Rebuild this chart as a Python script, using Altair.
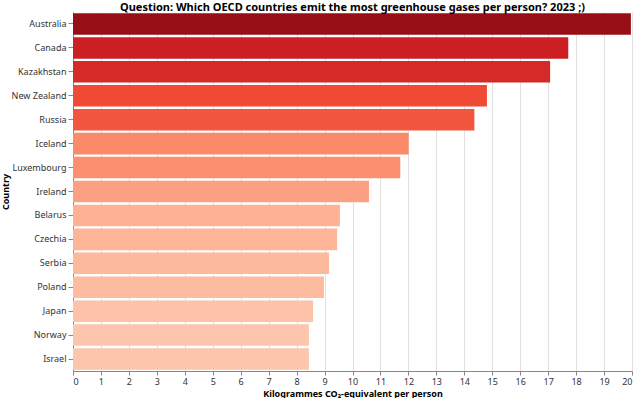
import altair as alt
import pandas as pd

countries = ["Australia", "Canada", "Kazakhstan", "New Zealand", "Russia", "Iceland",
             "Luxembourg", "Ireland", "Belarus", "Czechia", "Serbia", "Poland",
             "Japan", "Norway", "Israel"]
values = [19.96, 17.72, 17.07, 14.81, 14.36, 12.01, 11.71, 10.59, 9.55, 9.45,
          9.16, 8.98, 8.59, 8.44, 8.44]

color_stops = [8.44, 10.59, 12.01, 14.81, 17.72, 19.96]
color_range = ["#fdc5ab", "#fca082", "#fb8a6b", "#f04a37", "#cc1f24", "#970e17"]

df = pd.DataFrame({"Country": countries, "Value": values})

FONT = "Noto Sans"

chart = alt.Chart(df).mark_bar().encode(
    x=alt.X("Value:Q", title="Kilogrammes CO₂-equivalent per person",
            scale=alt.Scale(domain=[0, 20]),
            axis=alt.Axis(values=list(range(21)), labelOverlap=False,
                          tickSize=4, labelPadding=2, titlePadding=3)),
    y=alt.Y("Country:N", sort="-x", title="Country",
            axis=alt.Axis(grid=False, titlePadding=1)),
    color=alt.Color("Value:Q", legend=None,
                    scale=alt.Scale(domain=color_stops, range=color_range)),
).properties(
    width=559, height=359,
    title=alt.TitleParams("Question: Which OECD countries emit the most greenhouse gases per person? 2023 ;)",
                          fontSize=11, font=FONT, fontWeight="bold", offset=-3, dy=-2),
    padding={"left": 1, "right": 7, "top": 2, "bottom": 0},
).configure_axis(
    labelFont=FONT, titleFont=FONT, labelFontSize=9, titleFontSize=9,
    labelColor="#333", gridColor="#e0e0e0"
).configure_view(stroke=None)

chart.save("out.html", embed_options={"renderer": "svg", "actions": False})
